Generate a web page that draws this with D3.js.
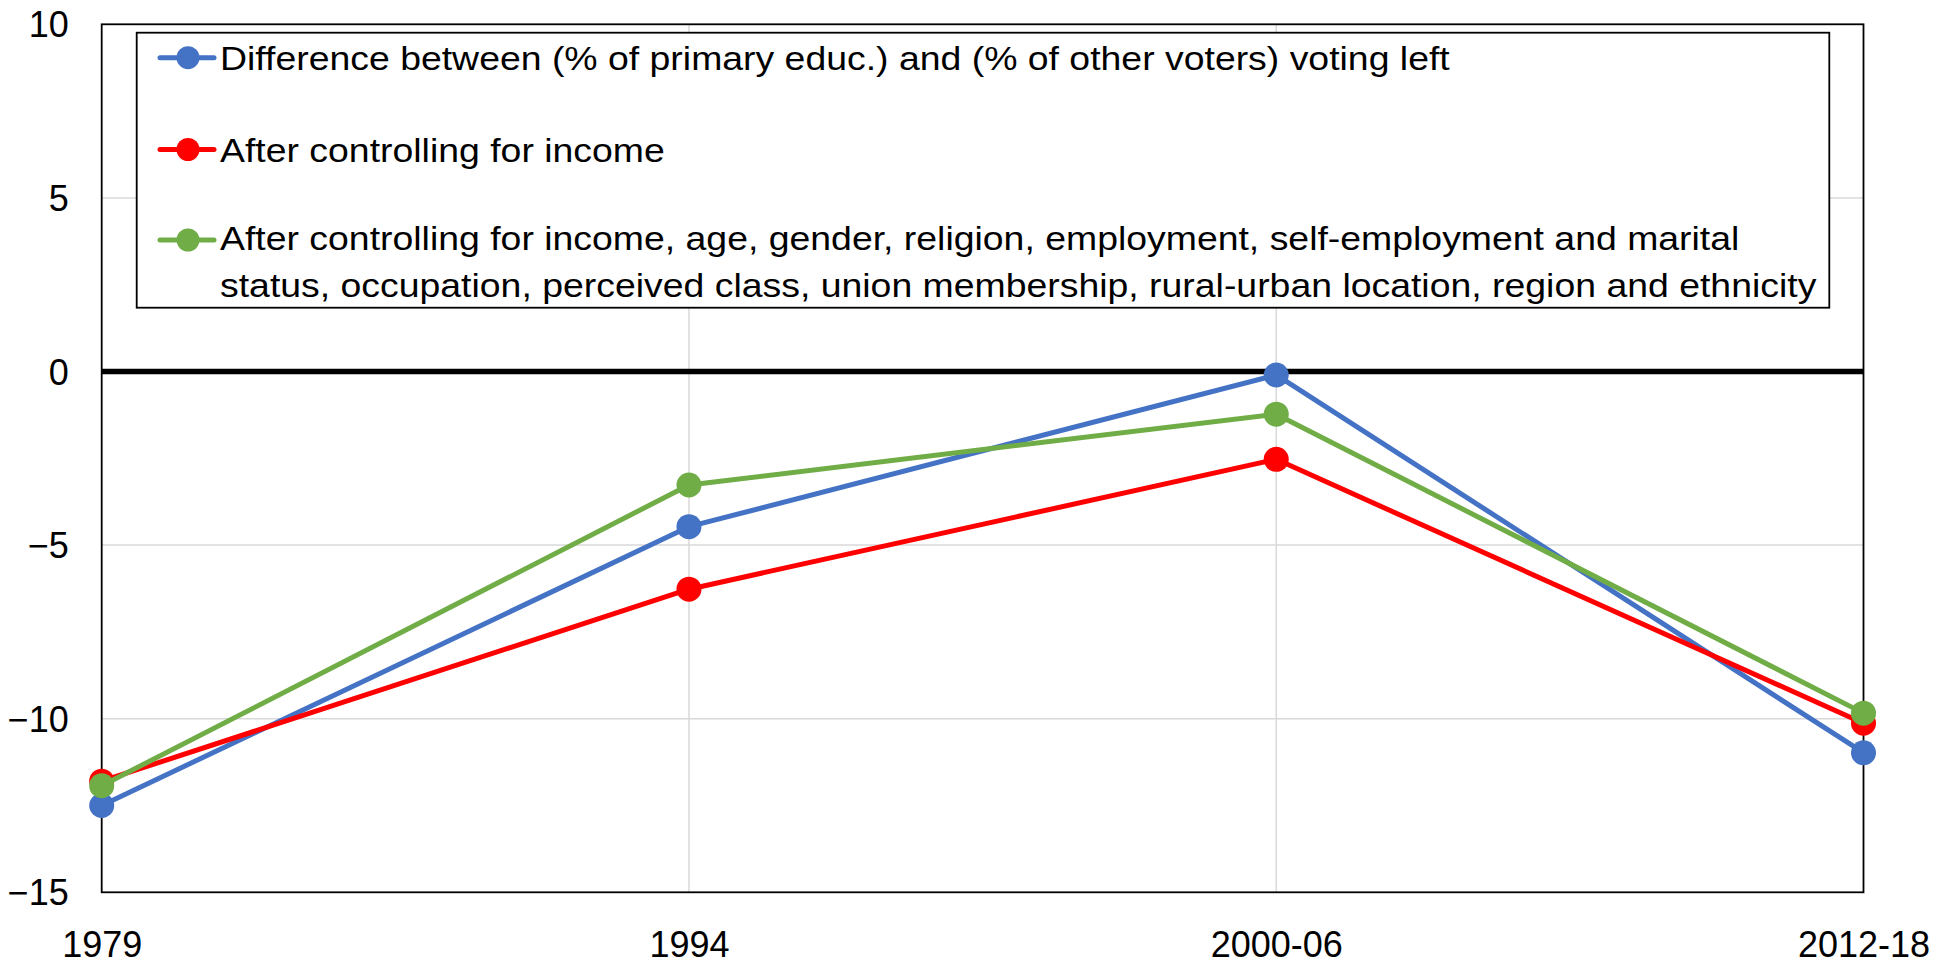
<!DOCTYPE html>
<html>
<head>
<meta charset="utf-8">
<script src="https://cdn.jsdelivr.net/npm/d3@7/dist/d3.min.js"></script>
<style>
  html, body { margin: 0; padding: 0; background: #fff; }
  svg { display: block; font-family: Arial, "Liberation Sans", sans-serif; }
</style>
</head>
<body>
<svg id="chart" width="1953" height="965"></svg>
<script>
const categories = ["1979", "1994", "2000-06", "2012-18"];
const yTicks = [10, 5, 0, -5, -10, -15];
const seriesNames = [
  "Difference between (% of primary educ.) and (% of other voters) voting left",
  "After controlling for income",
  "After controlling for income, age, gender, religion, employment, self-employment and marital|status, occupation, perceived class, union membership, rural-urban location, region and ethnicity"
];
const seriesColors = ["#4472C4", "#FF0000", "#70AD47"];
const rawValues = [-12.5, -4.47, -0.1, -10.98];
const incomeValues = [-11.8, -6.27, -2.53, -10.13];
const fullControlValues = [-11.93, -3.27, -1.23, -9.84];

const series = [rawValues, incomeValues, fullControlValues].map((vals, i) => ({
  name: seriesNames[i], color: seriesColors[i], values: vals
}));

const svg = d3.select("#chart");
const L = 101.7, R = 1863.5, T = 24.3, B = 892.3;

const x = d3.scalePoint().domain(categories).range([L, R]).padding(0);
const y = d3.scaleLinear().domain([-15, 10]).range([B, T]);

// gridlines horizontal
svg.append("g").selectAll("line").data(yTicks.filter(t => t !== 0 && t !== 10 && t !== -15))
  .join("line")
  .attr("x1", L).attr("x2", R)
  .attr("y1", d => y(d)).attr("y2", d => y(d))
  .attr("stroke", "#d9d9d9").attr("stroke-width", 1.5);

// vertical gridlines
svg.append("g").selectAll("line").data(categories.slice(1, -1))
  .join("line")
  .attr("x1", d => x(d)).attr("x2", d => x(d))
  .attr("y1", T).attr("y2", B)
  .attr("stroke", "#d9d9d9").attr("stroke-width", 1.5);

// plot border
svg.append("rect")
  .attr("x", L).attr("y", T).attr("width", R - L).attr("height", B - T)
  .attr("fill", "none").attr("stroke", "#000").attr("stroke-width", 1.8);

// zero line
svg.append("line")
  .attr("x1", L).attr("x2", R).attr("y1", y(0)).attr("y2", y(0))
  .attr("stroke", "#000").attr("stroke-width", 5.5);

// y axis labels
const yAxis = d3.axisLeft(y).tickValues(yTicks).tickSize(0).tickPadding(33).tickFormat(d3.format("d"));
const gy = svg.append("g").attr("transform", `translate(${L},0)`).call(yAxis);
gy.select(".domain").remove();
gy.selectAll("text").attr("font-size", 36).attr("fill", "#000")
  .attr("font-family", "Arial, 'Liberation Sans', sans-serif").attr("dy", "0.35em");

// x axis labels
const xAxis = d3.axisBottom(x).tickSize(0).tickPadding(0);
const gx = svg.append("g").attr("transform", `translate(0,${B})`).call(xAxis);
gx.select(".domain").remove();
gx.selectAll("text").attr("font-size", 36).attr("fill", "#000")
  .attr("font-family", "Arial, 'Liberation Sans', sans-serif")
  .attr("dy", null).attr("y", 65);

// lines and markers
const line = d3.line().x((d, i) => x(categories[i])).y(d => y(d));
series.forEach(s => {
  const g = svg.append("g");
  g.append("path").datum(s.values).attr("d", line)
    .attr("fill", "none").attr("stroke", s.color).attr("stroke-width", 5)
    .attr("stroke-linejoin", "round");
  g.selectAll("circle").data(s.values).join("circle")
    .attr("cx", (d, i) => x(categories[i])).attr("cy", d => y(d))
    .attr("r", 12.5).attr("fill", s.color);
});

// legend
const lg = svg.append("g");
lg.append("rect").attr("x", 136.7).attr("y", 32.7).attr("width", 1829.3 - 136.7).attr("height", 307.7 - 32.7)
  .attr("fill", "#fff").attr("stroke", "#000").attr("stroke-width", 1.8);
const baselines = [[70], [162], [250, 297]];
const symY = [57.7, 149.5, 240];
series.forEach((s, i) => {
  lg.append("line").attr("x1", 160).attr("x2", 214).attr("y1", symY[i]).attr("y2", symY[i])
    .attr("stroke", s.color).attr("stroke-width", 5).attr("stroke-linecap", "round");
  lg.append("circle").attr("cx", 188).attr("cy", symY[i]).attr("r", 11.5).attr("fill", s.color);
  const lines = s.name.split("|");
  lines.forEach((t, j) => {
    lg.append("text")
      .attr("transform", `translate(220,${baselines[i][j]}) scale(1.1,1)`)
      .attr("font-size", 34).attr("fill", "#000")
      .text(t);
  });
});
</script>
</body>
</html>
